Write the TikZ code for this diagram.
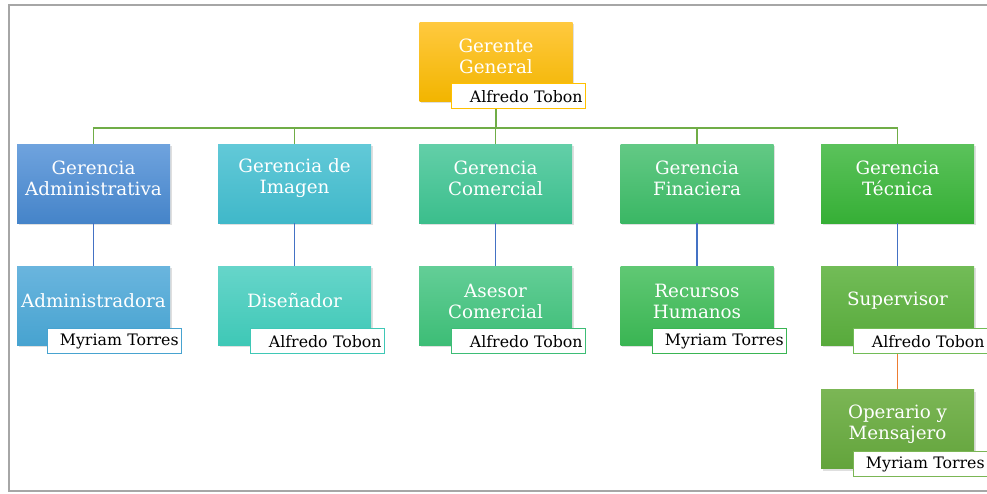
\documentclass[tikz,border=0pt]{standalone}
\usepackage{fontspec}
\setmainfont{DejaVu Serif}
\usetikzlibrary{shadows}
\definecolor{frameg}{HTML}{A6A6A6}
\definecolor{gy1}{HTML}{FFC93F}\definecolor{gy2}{HTML}{F2B500}\definecolor{gyb}{HTML}{FFC000}
\definecolor{ad1}{HTML}{6FA3DE}\definecolor{ad2}{HTML}{4584C9}
\definecolor{am1}{HTML}{6AB5DE}\definecolor{am2}{HTML}{47A3D0}
\definecolor{im1}{HTML}{62C9D8}\definecolor{im2}{HTML}{40B8C9}
\definecolor{di1}{HTML}{66D5CA}\definecolor{di2}{HTML}{3FC8B6}
\definecolor{co1}{HTML}{63CFA8}\definecolor{co2}{HTML}{3BBE8C}
\definecolor{as1}{HTML}{63CE97}\definecolor{as2}{HTML}{3DBD76}
\definecolor{fi1}{HTML}{63C985}\definecolor{fi2}{HTML}{3AB764}
\definecolor{rh1}{HTML}{60C874}\definecolor{rh2}{HTML}{3AB553}
\definecolor{te1}{HTML}{5BC25B}\definecolor{te2}{HTML}{36AF36}
\definecolor{su1}{HTML}{72BC57}\definecolor{su2}{HTML}{58AA3C}
\definecolor{op1}{HTML}{7BB655}\definecolor{op2}{HTML}{63A43C}
\definecolor{lgreen}{HTML}{70AD47}
\definecolor{lblue}{HTML}{4472C4}
\definecolor{lorange}{HTML}{ED7D31}
\tikzset{
  orgbox/.style={rectangle, minimum width=153pt, minimum height=79pt, inner sep=0pt,
    drop shadow={opacity=0.25, shadow xshift=1.5pt, shadow yshift=-2pt}},
  boxtext/.style={text=white, align=center, font=\fontsize{18.3}{21}\selectfont, inner sep=0pt},
  namebox/.style={rectangle, fill=white, draw=#1, line width=1.3pt, minimum width=134pt,
    minimum height=25pt, inner xsep=3pt, inner ysep=0pt, text width=128pt, align=right,
    text=black, font=\fontsize{15.8}{17}\selectfont},
  conn/.style={line width=1.8pt}
}
\begin{document}
\begin{tikzpicture}[x=1pt,y=-1pt]
\useasboundingbox (0,0) rectangle (987,493);
% frame
\draw[frameg, line width=2pt] (987,5) -- (9,5) -- (9,491) -- (987,491);

% top
\node[orgbox, top color=gy1, bottom color=gy2] (G) at (496,61.5) {};
\node[boxtext] (tG) at (496,56) {Gerente\\General};
\node[namebox=gyb, anchor=north west] (nG) at (451,83) {Alfredo Tobon};

% level 2
\node[orgbox, top color=ad1, bottom color=ad2] (A) at (93.5,183.5) {};
\node[orgbox, top color=im1, bottom color=im2] (B) at (294.5,183.5) {};
\node[orgbox, top color=co1, bottom color=co2] (C) at (495.5,183.5) {};
\node[orgbox, top color=fi1, bottom color=fi2] (D) at (697,183.5) {};
\node[orgbox, top color=te1, bottom color=te2] (E) at (897.5,183.5) {};
\node[boxtext] (tA) at (93.5,178) {Gerencia\\Administrativa};
\node[boxtext] (tB) at (294.5,178) {Gerencia de\\Imagen};
\node[boxtext] (tC) at (495.5,178) {Gerencia\\Comercial};
\node[boxtext] (tD) at (697,178) {Gerencia\\Finaciera};
\node[boxtext] (tE) at (897.5,178) {Gerencia\\T\'ecnica};

% level 3
\node[orgbox, top color=am1, bottom color=am2] (A2) at (93.5,305.5) {};
\node[orgbox, top color=di1, bottom color=di2] (B2) at (294.5,305.5) {};
\node[orgbox, top color=as1, bottom color=as2] (C2) at (495.5,305.5) {};
\node[orgbox, top color=rh1, bottom color=rh2] (D2) at (697,305.5) {};
\node[orgbox, top color=su1, bottom color=su2] (E2) at (897.5,305.5) {};
\node[boxtext] (tA2) at (93.5,301) {Administradora};
\node[boxtext] (tB2) at (294.5,301) {Dise\~nador};
\node[boxtext] (tC2) at (495.5,301) {Asesor\\Comercial};
\node[boxtext] (tD2) at (697,301) {Recursos\\Humanos};
\node[boxtext] (tE2) at (897.5,301) {Supervisor};

% level 4
\node[orgbox, top color=op1, bottom color=op2] (E3) at (897.5,429) {};
\node[boxtext] (tE3) at (897.5,424) {Operario y\\Mensajero};

% name boxes
\node[namebox=am2, anchor=north west] (nA) at (47,328) {Myriam Torres};
\node[namebox=di2, anchor=north west] (nB) at (250,328) {Alfredo Tobon};
\node[namebox=as2, anchor=north west] (nC) at (451,328) {Alfredo Tobon};
\node[namebox=rh2, anchor=north west] (nD) at (652,328) {Myriam Torres};
\node[namebox=su1, anchor=north west] (nE) at (853,328) {Alfredo Tobon};
\node[namebox=op1, anchor=north west] (nE3) at (853,451) {Myriam Torres};

% connectors
\coordinate (bar) at (496,128);
\draw[conn, lgreen] (nG.south -| G.south) -- (bar);
\draw[conn, lgreen] (A.north) |- (bar) -| (E.north);
\draw[conn, lgreen] (B.north) -- (B.north |- bar);
\draw[conn, lgreen] (C.north) -- (C.north |- bar);
\draw[conn, lgreen] (D.north) -- (D.north |- bar);
\draw[conn, lblue] (A.south) -- (A2.north);
\draw[conn, lblue] (B.south) -- (B2.north);
\draw[conn, lblue] (C.south) -- (C2.north);
\draw[conn, lblue] (D.south) -- (D2.north);
\draw[conn, lblue] (E.south) -- (E2.north);
\draw[conn, lorange] (nE.south -| E2.south) -- (E3.north);
\end{tikzpicture}
\end{document}
